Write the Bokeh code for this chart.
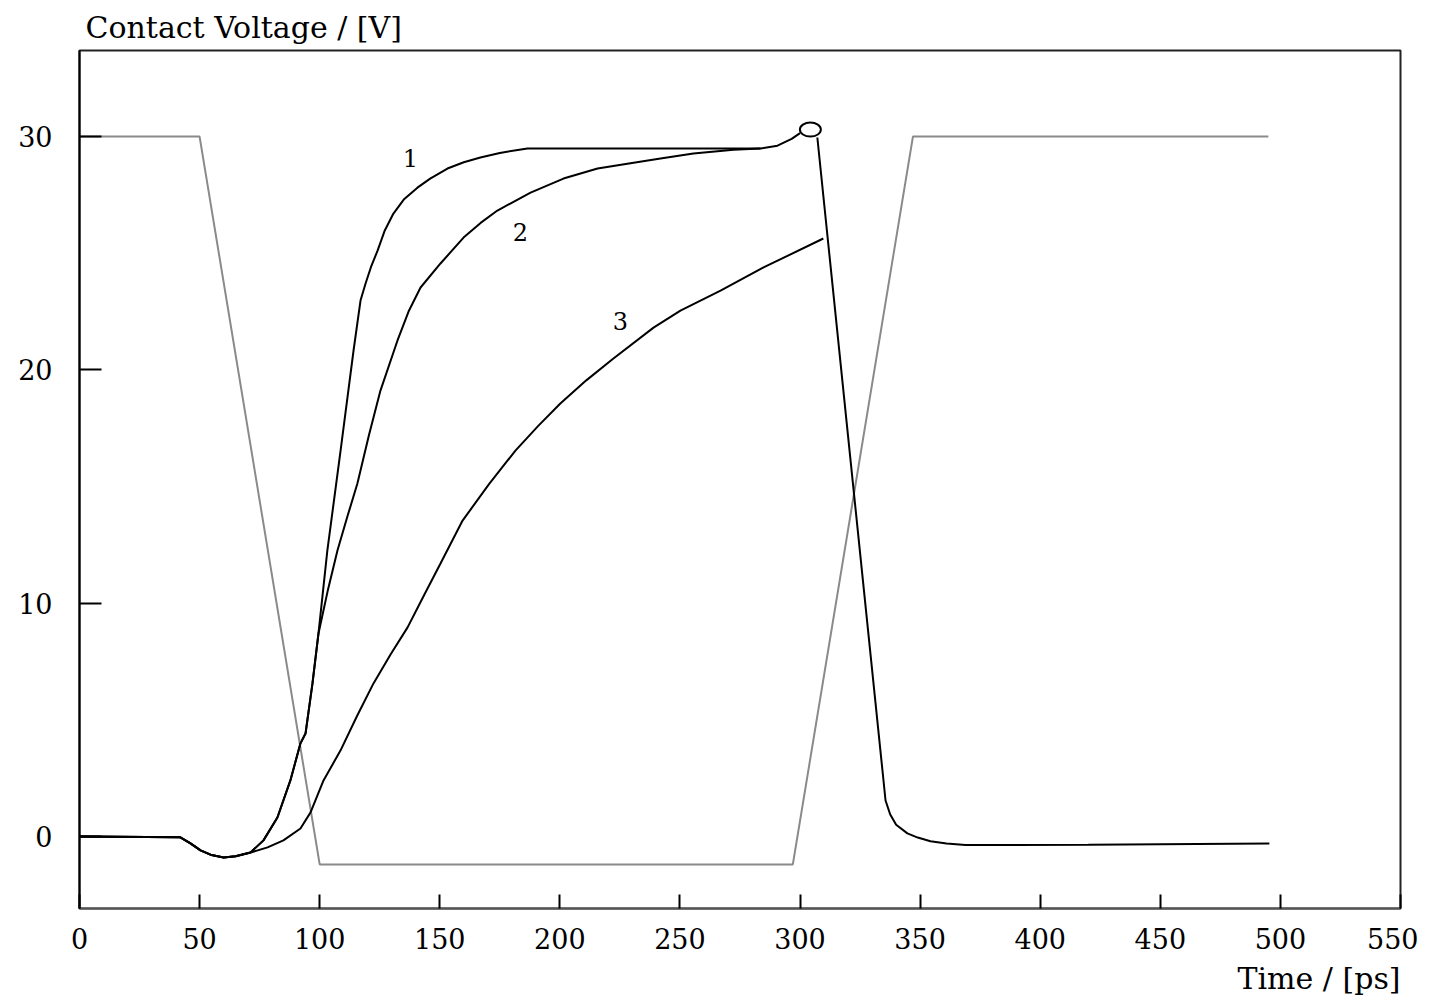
from bokeh.plotting import figure
from bokeh.models import Range1d, FixedTicker, Title
from bokeh.embed import file_html
from bokeh.resources import INLINE
from bokeh.core.properties import value

# ---------------- data ----------------
x_ticks = [0, 50, 100, 150, 200, 250, 300, 350, 400, 450, 500, 550]
y_ticks = [0, 10, 20, 30]

# input (gray trapezoid) waveform
input_t = [0, 50, 100, 297, 347, 495]
input_v = [30, 30, -1.2, -1.2, 30, 30]

# curve 1
curve1_t = [0, 42, 46.2, 50.4, 55, 60, 65, 71.2, 76.6, 82.4, 87.8, 92, 94.1, 97, 99.5,
            103.2, 108.7, 114.1, 117, 119.1, 121.5, 124.1, 127, 130.7, 135, 140.7, 146,
            153.2, 160, 166.9, 175, 186.5, 283.5, 290.6, 296.5, 300]
curve1_v = [0, -0.04, -0.3, -0.6, -0.8, -0.9, -0.85, -0.69, -0.17, 0.81, 2.4, 3.99, 4.41, 6.56, 8.7,
            12.26, 16.54, 20.83, 22.97, 23.7, 24.45, 25.11, 25.95, 26.7, 27.3, 27.81, 28.2,
            28.63, 28.9, 29.1, 29.3, 29.49, 29.49, 29.61, 29.9, 30.15]

# curve 2
curve2_t = [0, 42, 46.2, 50.4, 55, 60, 65, 71.2, 76.6, 82.4, 87.8, 92, 94.1, 97, 99.5,
            103.5, 107.4, 111.5, 115.7, 120.5, 125.3, 132.4, 137, 142, 150.3, 159.9, 167, 174,
            187.8, 201.5, 215.7, 228.1, 241.9, 255.6, 272.3, 283.5]
curve2_v = [0, -0.04, -0.3, -0.6, -0.8, -0.9, -0.85, -0.69, -0.17, 0.81, 2.4, 3.99, 4.41, 6.56, 8.7,
            10.6, 12.26, 13.7, 15.13, 17.2, 19.11, 21.26, 22.5, 23.53, 24.56, 25.67, 26.3, 26.83,
            27.6, 28.2, 28.63, 28.84, 29.06, 29.27, 29.44, 29.49]

# curve 3
curve3_t = [0, 42, 46.2, 50.4, 55, 60, 65, 71.2, 78.3, 84.9, 92, 96.2, 101.6, 108.7, 115.5, 122.4,
            129.5, 136.6, 143.5, 150.3, 159.5, 170.5, 181.5, 191, 200.2, 211, 222.3, 239, 250.2,
            266.9, 284.8, 309.7]
curve3_v = [0, -0.04, -0.3, -0.6, -0.8, -0.9, -0.85, -0.69, -0.47, -0.17, 0.34, 1.03, 2.4, 3.69, 5.15, 6.56,
            7.8, 8.96, 10.35, 11.7, 13.54, 15.1, 16.54, 17.6, 18.56, 19.55, 20.49, 21.81, 22.54,
            23.4, 24.39, 25.63]

# common fall after the switch-off point
fall_t = [307.2, 335.6, 337.5, 340, 344.7, 349, 354.3, 361, 368.9, 420, 495.4]
fall_v = [29.96, 1.54, 0.95, 0.5, 0.13, -0.05, -0.21, -0.3, -0.37, -0.36, -0.3]

# switch-off marker
marker_t = [304.3]
marker_v = [30.3]

# curve labels
label_text = ["1", "2", "3"]
label_t = [137.8, 183.6, 225.2]
label_v = [29.1, 25.9, 22.1]

FONT = "DejaVu Serif"

# ---------------- figure ----------------
p = figure(width=1418, height=1003,
           x_range=Range1d(0, 550), y_range=Range1d(-3.09, 33.69),
           output_backend="svg", toolbar_location=None,
           min_border_left=79, min_border_right=18,
           min_border_top=50, min_border_bottom=95)

p.title = Title(text="Contact Voltage / [V]", align="left", offset=6, standoff=12,
                text_font=FONT, text_font_style="normal",
                text_font_size="30px", text_color="black")
p.add_layout(Title(text="Time / [ps]", align="right", standoff=14,
                   text_font=FONT, text_font_style="normal",
                   text_font_size="30px", text_color="black"), "below")

p.background_fill_color = "white"
p.border_fill_color = "white"
p.outline_line_color = "#222222"
p.outline_line_width = 2
p.xgrid.grid_line_color = None
p.ygrid.grid_line_color = None

ax = p.xaxis[0]
ax.ticker = FixedTicker(ticks=x_ticks)
ax.axis_line_color = "#555555"
ax.axis_line_width = 2
ax.major_tick_in = 14
ax.major_tick_out = 0
ax.major_tick_line_color = "black"
ax.major_tick_line_width = 2
ax.minor_tick_in = 0
ax.minor_tick_out = 0
ax.major_label_standoff = 19
ax.major_label_text_font = FONT
ax.major_label_text_font_size = "27px"
ax.major_label_text_color = "black"

ay = p.yaxis[0]
ay.ticker = FixedTicker(ticks=y_ticks)
ay.axis_line_color = "black"
ay.axis_line_width = 2
ay.major_tick_in = 22
ay.major_tick_out = 0
ay.major_tick_line_color = "black"
ay.major_tick_line_width = 2
ay.minor_tick_in = 0
ay.minor_tick_out = 0
ay.major_label_standoff = 27
ay.major_label_text_font = FONT
ay.major_label_text_font_size = "27px"
ay.major_label_text_color = "black"

# input waveform
p.line(input_t, input_v, line_color="#8a8a8a", line_width=2)

# response curves
for t, v in ((curve1_t, curve1_v), (curve2_t, curve2_v), (curve3_t, curve3_v)):
    p.line(t, v, line_color="black", line_width=2)
p.line(fall_t, fall_v, line_color="black", line_width=2)

# marker
p.ellipse(x=marker_t, y=marker_v, width=21, height=14,
          width_units="screen", height_units="screen",
          fill_color=None, line_color="black", line_width=2)

# labels
p.text(x=label_t, y=label_v, text=label_text,
       text_font=value(FONT), text_font_size="24px",
       text_align="center", text_baseline="middle", text_color="black")

open("out.html", "w").write(file_html(p, INLINE))
